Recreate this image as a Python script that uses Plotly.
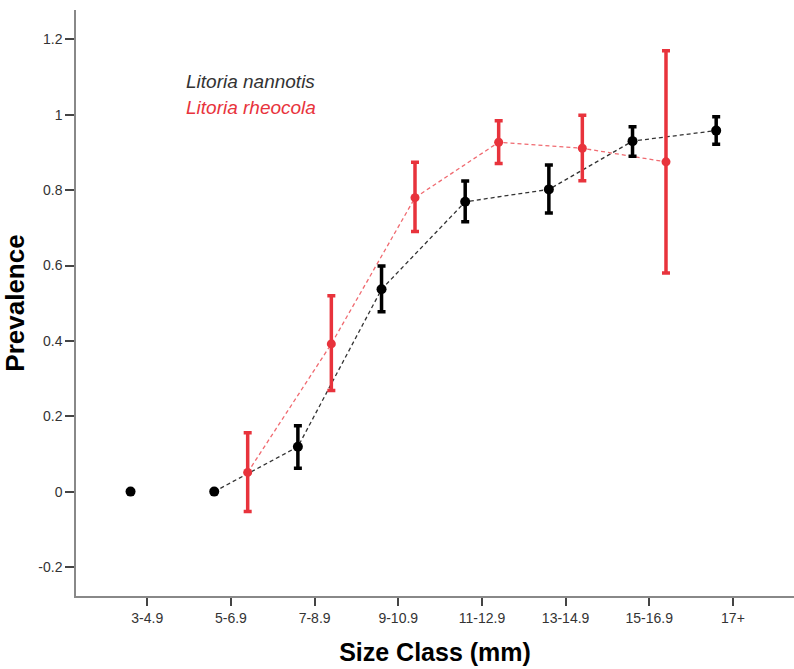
import plotly.graph_objects as go

categories = ["3-4.9", "5-6.9", "7-8.9", "9-10.9", "11-12.9", "13-14.9", "15-16.9", "17+"]

# Litoria nannotis (black)
nan_vals = [0.0, 0.0, 0.119, 0.537, 0.769, 0.802, 0.930, 0.958]
nan_err_up = [0.0, 0.0, 0.056, 0.062, 0.055, 0.065, 0.038, 0.037]
nan_err_dn = [0.0, 0.0, 0.057, 0.060, 0.053, 0.063, 0.040, 0.036]

# Litoria rheocola (red); None = no sample in that class
rhe_vals = [None, 0.051, 0.392, 0.780, 0.927, 0.911, 0.875, None]
rhe_err_up = [0, 0.105, 0.128, 0.094, 0.057, 0.088, 0.295, 0]
rhe_err_dn = [0, 0.104, 0.124, 0.090, 0.056, 0.086, 0.295, 0]

y_ticks = [-0.2, 0.0, 0.2, 0.4, 0.6, 0.8, 1.0, 1.2]
y_tick_text = ["-0.2", "0", "0.2", "0.4", "0.6", "0.8", "1", "1.2"]

BLACK = "#000000"
RED = "#e8333c"
FONT = "Arial, Liberation Sans, sans-serif"

idx = list(range(len(categories)))
x_nan = [i - 0.2 for i in idx]
x_rhe = [i + 0.2 for i in idx]

fig = go.Figure()

# dashed connecting lines (first nannotis class not connected)
fig.add_trace(go.Scatter(
    x=x_nan[1:], y=nan_vals[1:], mode="lines",
    line=dict(color="#333333", width=1.3, dash="4px,3px"),
    hoverinfo="skip", showlegend=False))
rx = [x for x, v in zip(x_rhe, rhe_vals) if v is not None]
ry = [v for v in rhe_vals if v is not None]
fig.add_trace(go.Scatter(
    x=rx, y=ry, mode="lines",
    line=dict(color="#f06a70", width=1.3, dash="4px,3px"),
    hoverinfo="skip", showlegend=False))

# red points with error bars
rux = [u for u, v in zip(rhe_err_up, rhe_vals) if v is not None]
rdx = [d for d, v in zip(rhe_err_dn, rhe_vals) if v is not None]
fig.add_trace(go.Scatter(
    x=rx, y=ry, mode="markers",
    marker=dict(color=RED, size=9),
    error_y=dict(type="data", symmetric=False, array=rux, arrayminus=rdx,
                 color=RED, thickness=3.5, width=4),
    name="Litoria rheocola", showlegend=False))

# black points with error bars
fig.add_trace(go.Scatter(
    x=x_nan, y=nan_vals, mode="markers",
    marker=dict(color=BLACK, size=10),
    error_y=dict(type="data", symmetric=False, array=nan_err_up, arrayminus=nan_err_dn,
                 color=BLACK, thickness=3.5, width=4),
    name="Litoria nannotis", showlegend=False))

fig.add_annotation(text="<i>Litoria nannotis</i>", xref="paper", yref="paper",
                   x=0.151, y=0.878, xanchor="left", yanchor="middle", showarrow=False,
                   font=dict(family=FONT, size=19, color="#333333"))
fig.add_annotation(text="<i>Litoria rheocola</i>", xref="paper", yref="paper",
                   x=0.151, y=0.834, xanchor="left", yanchor="middle", showarrow=False,
                   font=dict(family=FONT, size=19, color=RED))

fig.update_layout(
    width=794, height=669,
    margin=dict(l=76, r=0, t=10, b=73),
    paper_bgcolor="white", plot_bgcolor="white",
    font=dict(family=FONT, size=14, color="#333333"),
    xaxis=dict(
        range=[-0.852, 7.73], tickmode="array", tickvals=idx, ticktext=categories,
        showgrid=False, zeroline=False, showline=True, linecolor="#888888", linewidth=1.5,
        ticks="outside", ticklen=8, tickwidth=1.5, tickcolor="#444444",
        tickfont=dict(family=FONT, size=14, color="#333333"),
        title=dict(text="<b>Size Class (mm)</b>", font=dict(family=FONT, size=25, color="#000000"),
                   standoff=19),
    ),
    yaxis=dict(
        range=[-0.277, 1.278], tickmode="array", tickvals=y_ticks, ticktext=y_tick_text,
        showgrid=False, zeroline=False, showline=True, linecolor="#888888", linewidth=1.5,
        ticks="outside", ticklen=9, tickwidth=1.5, tickcolor="#444444",
        tickfont=dict(family=FONT, size=14, color="#333333"),
        title=dict(text="<b>Prevalence</b>", font=dict(family=FONT, size=26, color="#000000"),
                   standoff=9),
    ),
)

fig.write_html("out.html")
